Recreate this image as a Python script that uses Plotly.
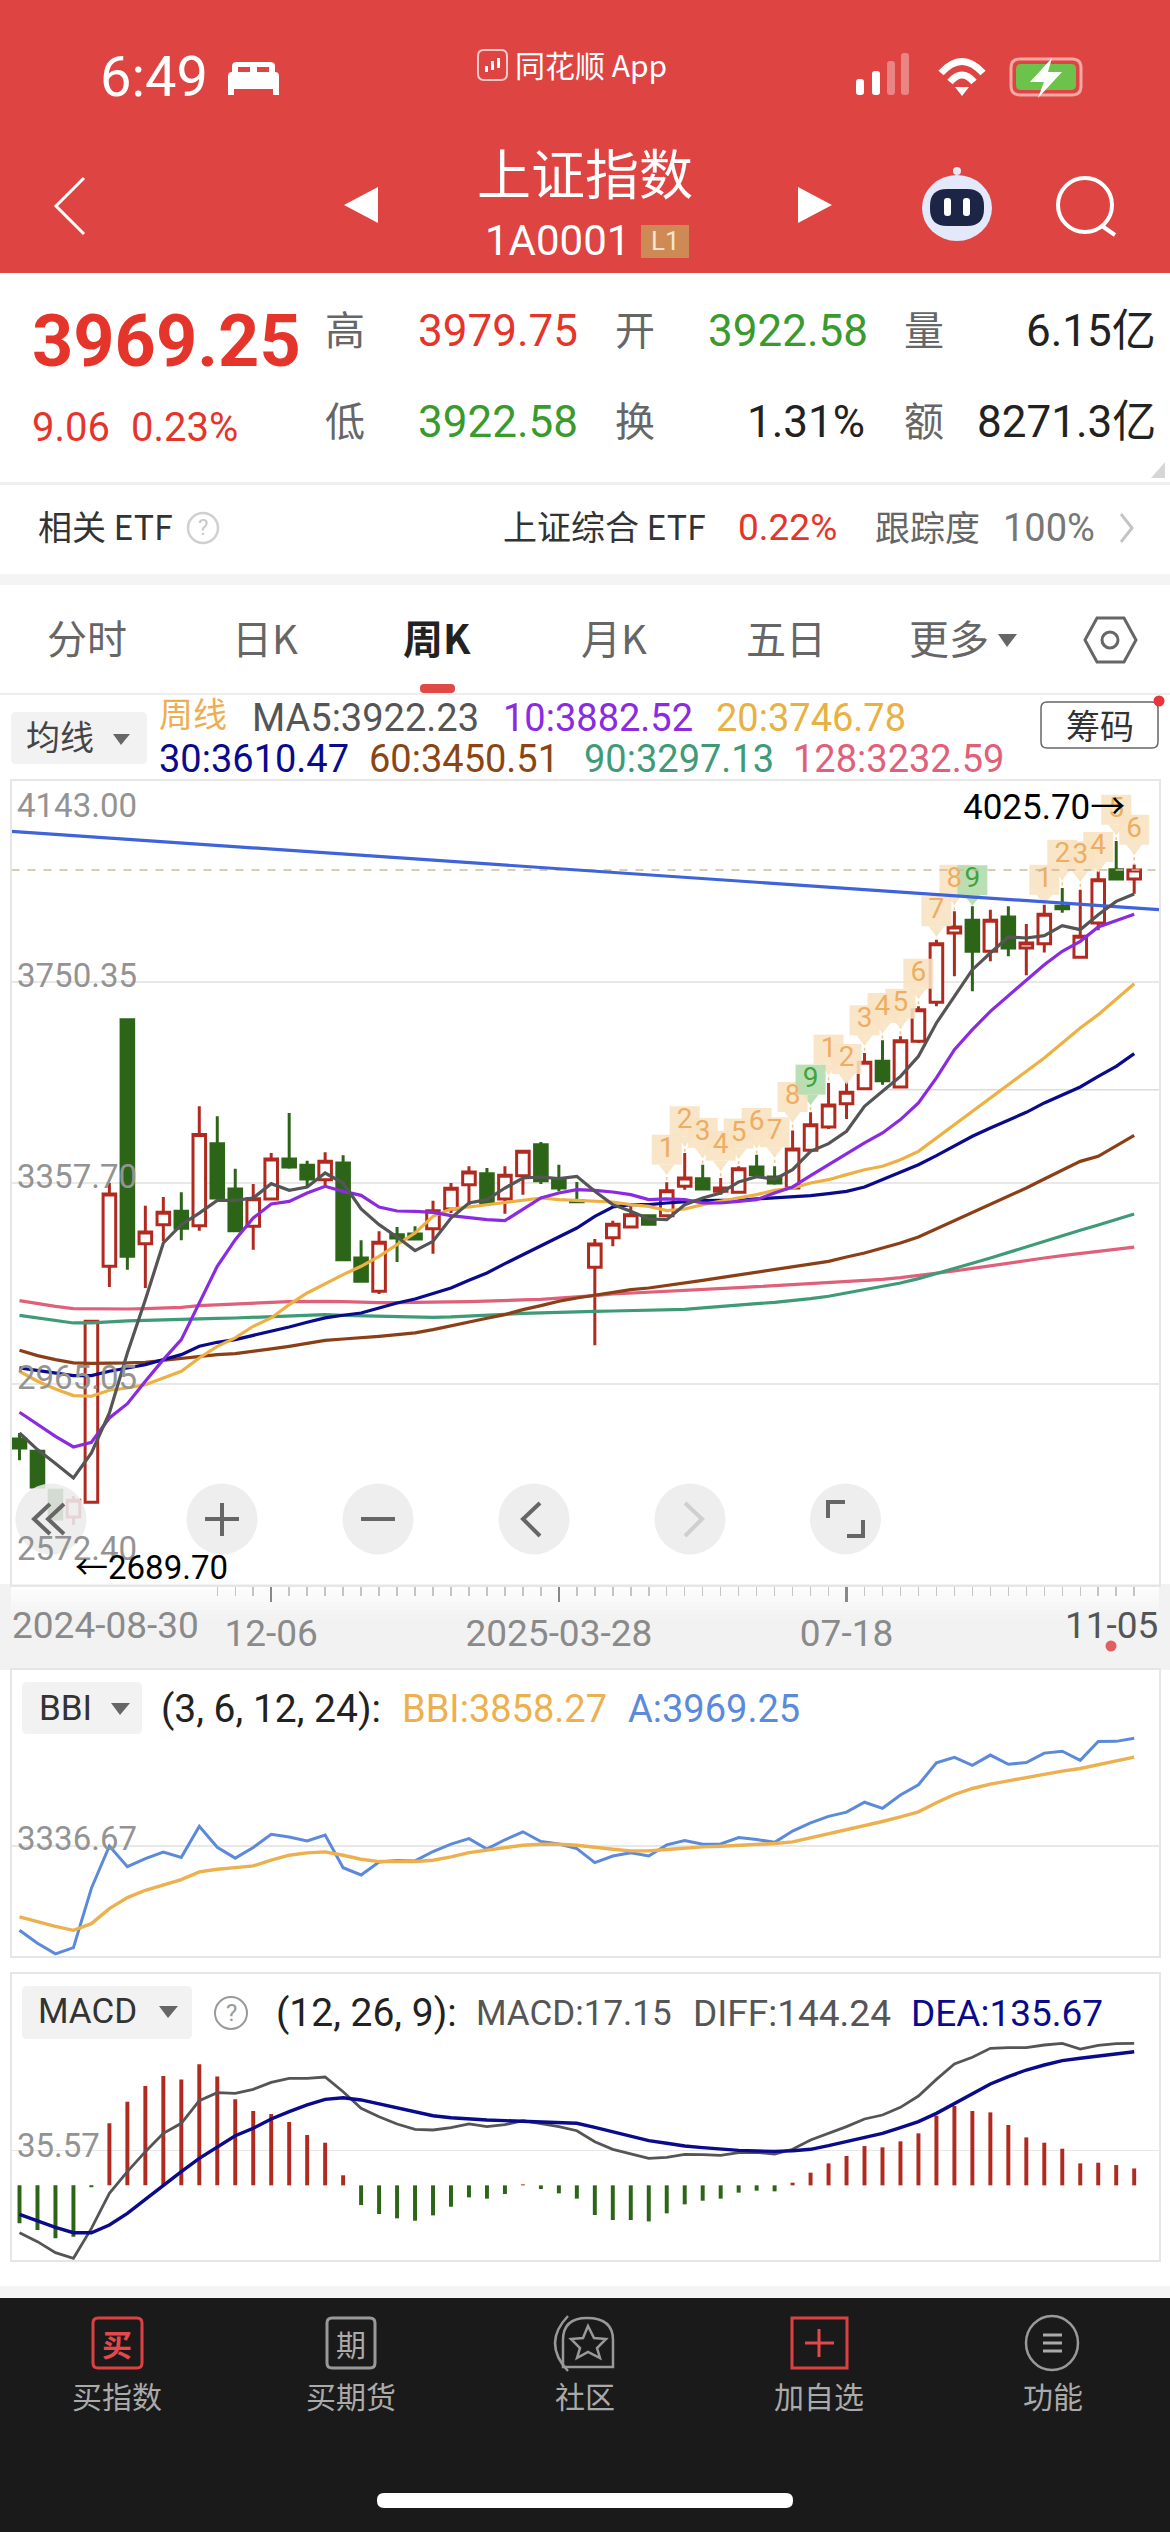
import plotly.graph_objects as go

W, H = 1170, 2532
FONT_N = "Roboto, 'Noto Sans CJK SC'"
FONT_C = "'Noto Sans CJK SC', Roboto"

# ---------- data ----------
opens = [2857.7,2833.6,2757.5,2705.4,2734.0,3194.9,3676.8,3239.2,3276.3,3302.4,3274.4,3434.6,3346.0,3273.1,3326.4,3404.6,3392.2,3364.2,3396.8,3211.2,3146.1,3256.8,3258.1,3268.5,3306.9,3354.4,3375.9,3326.4,3372.0,3432.6,3365.5,3323.0,3193.0,3250.9,3271.8,3293.9,3293.9,3351.2,3366.2,3341.4,3339.5,3388.9,3369.4,3347.9,3421.6,3467.2,3512.7,3542.0,3595.4,3545.3,3634.5,3710.6,3846.0,3870.8,3810.2,3877.3,3816.7,3825.2,3898.1,3798.5,3865.6,3969.7,3951.5]
highs = [2869.4,2836.0,2757.5,2745.8,3089.0,3357.7,3676.8,3313.4,3330.4,3339.5,3507.5,3488.0,3385.7,3355.7,3416.3,3494.4,3401.3,3417.6,3411.7,3245.7,3263.3,3271.8,3273.1,3323.2,3357.7,3390.3,3387.0,3390.3,3421.0,3437.8,3393.5,3359.7,3248.3,3284.1,3312.1,3295.9,3359.0,3416.3,3393.5,3367.5,3390.3,3413.0,3390.3,3460.5,3495.8,3553.1,3556.3,3611.7,3636.4,3644.2,3702.8,3833.0,3888.4,3898.1,3891.6,3898.1,3863.6,3901.4,3934.0,3930.7,3966.5,4025.7,3979.75]
lows = [2816.0,2764.0,2701.5,2689.7,2734.0,3154.6,3188.4,3152.6,3243.8,3245.7,3264.6,3328.4,3264.6,3227.5,3323.8,3385.7,3347.9,3352.5,3206.0,3165.6,3140.9,3203.4,3248.3,3219.7,3299.1,3314.1,3315.4,3297.8,3334.9,3355.7,3341.4,3318.6,3040.6,3234.0,3269.8,3277.0,3292.6,3344.7,3346.0,3334.9,3338.2,3367.5,3354.4,3345.0,3420.0,3463.2,3482.8,3540.0,3549.8,3545.3,3631.2,3702.8,3761.4,3732.1,3790.7,3800.5,3763.5,3808.2,3885.6,3797.2,3851.3,3951.5,3922.58]
closes = [2840.2,2764.0,2701.5,2737.9,3087.5,3336.2,3214.5,3262.0,3300.4,3269.2,3452.2,3328.4,3264.6,3327.1,3404.6,3389.0,3365.5,3400.0,3208.0,3165.6,3241.8,3250.3,3248.3,3303.7,3347.3,3379.2,3318.6,3372.7,3419.5,3362.3,3347.9,3321.0,3238.6,3277.0,3295.9,3277.0,3342.7,3367.5,3346.0,3347.9,3385.7,3374.0,3357.7,3424.0,3471.7,3510.1,3534.9,3593.4,3557.6,3635.8,3696.3,3825.2,3857.8,3810.2,3870.8,3816.7,3826.5,3882.5,3893.6,3839.5,3950.2,3951.5,3969.25]

ma5 = [2869.4,2836.9,2809.6,2781.6,2830.4,2908.5,3025.7,3129.8,3240.5,3276.3,3299.0,3323.8,3323.8,3328.4,3356.4,3343.4,3349.9,3377.2,3357.7,3306.9,3276.3,3252.2,3225.6,3243.8,3289.3,3318.6,3325.2,3347.9,3367.5,3369.4,3366.2,3370.7,3341.4,3315.4,3302.4,3287.4,3286.1,3315.4,3328.4,3338.2,3359.7,3370.0,3365.0,3383.7,3419.7,3434.6,3458.7,3507.5,3536.8,3566.0,3605.2,3670.3,3722.4,3774.4,3807.0,3838.3,3836.3,3840.9,3860.4,3852.6,3881.9,3907.9,3922.23]
ma10 = [2909.8,2885.7,2862.9,2842.1,2851.2,2898.7,2926.7,2970.4,3012.7,3051.7,3123.3,3195.0,3247.0,3289.3,3316.7,3321.9,3338.2,3351.2,3341.4,3333.6,3310.8,3303.0,3302.4,3300.4,3293.9,3289.3,3286.1,3284.1,3305.6,3328.4,3338.2,3344.7,3343.4,3340.1,3334.9,3325.2,3326.5,3325.2,3318.6,3318.6,3321.9,3325.2,3338.2,3350.0,3372.1,3393.6,3414.5,3436.0,3455.5,3481.5,3514.1,3562.9,3618.2,3657.3,3693.0,3723.7,3754.9,3784.2,3810.3,3829.8,3857.8,3870.8,3882.52]
ma20 = [2989.9,2970.4,2955.4,2942.4,2941.1,2952.8,2957.3,2963.8,2976.9,2989.9,3015.9,3038.7,3055.0,3077.8,3094.1,3120.1,3142.9,3161.1,3178.7,3195.0,3214.5,3237.3,3260.0,3292.6,3306.9,3310.8,3315.4,3319.9,3325.2,3328.4,3325.2,3323.8,3321.9,3320.6,3315.4,3312.1,3303.7,3306.9,3315.4,3321.9,3328.4,3334.9,3343.4,3347.9,3357.7,3364.2,3374.0,3383.7,3390.3,3403.3,3419.5,3445.7,3471.7,3497.8,3523.8,3549.9,3575.9,3602.0,3631.2,3660.5,3686.6,3715.9,3746.78]
ma30 = [2996.4,2991.8,2986.6,2981.4,2981.4,2989.9,2996.4,3002.9,3012.7,3022.4,3038.7,3046.5,3051.7,3059.5,3068.0,3076.5,3085.6,3094.1,3099.3,3103.8,3113.6,3123.3,3131.2,3141.6,3152.6,3167.6,3181.9,3200.2,3217.7,3234.0,3252.2,3269.8,3292.6,3310.8,3315.4,3315.4,3318.6,3321.2,3323.2,3323.8,3323.8,3326.5,3328.4,3330.4,3333.0,3336.9,3341.4,3349.9,3364.2,3378.5,3393.5,3411.1,3429.4,3449.0,3465.2,3480.2,3495.8,3514.1,3530.3,3545.3,3566.1,3585.7,3610.47]
ma60 = [3030.9,3020.5,3012.7,3006.2,3005.5,3005.5,3006.2,3007.5,3011.4,3015.9,3019.2,3022.4,3024.4,3028.3,3033.5,3038.7,3045.2,3050.4,3053.0,3055.0,3058.2,3061.5,3064.8,3071.3,3079.1,3086.2,3093.4,3100.6,3110.3,3118.1,3126.6,3133.1,3138.3,3144.2,3149.4,3152.6,3157.2,3162.4,3167.6,3172.8,3178.0,3183.2,3188.4,3193.6,3198.9,3204.7,3213.2,3221.0,3230.8,3240.5,3252.2,3267.9,3284.1,3299.1,3315.4,3331.7,3347.9,3365.5,3382.4,3400.0,3409.8,3429.3,3450.51]
ma90 = [3099.2,3094.0,3088.8,3084.3,3084.3,3086.9,3088.2,3089.5,3090.8,3091.4,3092.7,3093.4,3094.0,3095.3,3096.0,3097.3,3099.2,3100.6,3099.2,3098.6,3097.3,3096.0,3095.3,3095.3,3096.0,3097.3,3099.2,3101.2,3103.2,3104.5,3105.8,3106.4,3107.1,3107.7,3108.4,3108.4,3109.0,3111.0,3113.6,3116.8,3119.4,3122.0,3124.6,3127.9,3131.8,3136.4,3142.9,3149.4,3155.9,3162.4,3170.9,3180.6,3189.7,3200.8,3211.2,3222.3,3232.7,3243.8,3254.2,3265.3,3275.7,3286.7,3297.13]
ma128 = [3127.9,3122.0,3116.8,3112.3,3111.6,3111.6,3111.6,3112.3,3113.6,3114.9,3118.1,3120.1,3121.4,3122.7,3124.6,3125.9,3126.6,3126.6,3125.9,3124.6,3124.0,3124.0,3124.0,3124.6,3125.3,3125.9,3126.6,3127.9,3129.2,3130.5,3132.5,3135.1,3137.7,3140.9,3142.9,3144.8,3146.8,3148.7,3150.0,3152.0,3153.3,3155.2,3157.2,3159.1,3161.1,3163.0,3165.0,3167.0,3169.6,3172.8,3176.7,3180.6,3185.8,3191.0,3196.3,3201.5,3206.7,3211.2,3215.8,3220.3,3224.2,3228.2,3232.59]

bbi = [2918.6,2889.1,2863.6,2840.0,2879.3,2967.7,3032.4,3075.6,3105.1,3138.4,3183.6,3199.3,3209.1,3218.9,3252.3,3281.7,3295.5,3301.4,3281.7,3258.2,3244.4,3242.5,3244.4,3252.3,3271.9,3297.5,3311.2,3326.9,3340.6,3346.5,3346.5,3340.6,3326.9,3317.0,3307.3,3307.3,3315.1,3325.0,3330.8,3334.7,3338.7,3344.5,3350.4,3360.3,3383.8,3409.3,3434.9,3458.4,3480.0,3507.5,3536.9,3589.9,3639.0,3674.3,3699.8,3719.5,3739.1,3758.7,3776.4,3792.1,3815.7,3837.3,3858.27]

macd = [-38.6,-45.4,-53.8,-52.1,-2.0,63.0,85.0,100.9,111.0,107.6,122.9,110.4,87.3,75.5,72.4,64.3,51.1,43.3,10.2,-20.0,-29.1,-33.5,-35.9,-30.5,-21.7,-12.2,-13.5,-8.8,1.0,-3.7,-8.1,-13.5,-30.1,-35.2,-35.2,-36.6,-28.4,-19.3,-15.6,-13.5,-7.4,-5.4,-6.1,2.7,12.9,22.3,29.8,39.9,38.6,44.7,52.8,70.7,80.6,75.5,74.1,61.3,48.7,43.3,37.2,22.3,23.0,20.6,17.15]
diff = [-48.1,-57.2,-68.4,-74.1,-43.7,-8.1,13.9,34.2,52.8,63.0,86.0,94.1,93.4,97.5,104.6,108.7,108.7,110.0,95.1,78.2,69.7,62.3,56.9,56.2,58.6,62.3,59.6,61.6,65.7,63.0,59.6,55.5,44.3,36.6,31.8,27.4,28.4,31.5,31.1,30.5,33.2,33.5,31.8,36.6,46.0,52.8,59.6,67.4,71.4,79.2,90.7,107.6,123.2,130.0,139.1,139.8,139.8,142.5,144.2,138.4,142.2,143.9,144.24]
dea = [-29.4,-35.9,-42.7,-48.1,-48.1,-40.3,-28.4,-14.2,0.3,13.9,27.4,39.3,50.4,57.9,67.4,74.8,81.6,87.3,89.0,86.7,82.6,78.2,74.1,70.7,68.7,67.4,66.3,65.7,65.0,64.7,64.3,63.0,58.9,54.5,49.8,45.4,42.7,39.9,38.3,36.6,35.5,34.9,34.5,35.2,36.6,40.3,44.3,48.7,52.8,58.6,64.7,73.1,83.3,93.4,102.9,110.4,117.1,122.2,126.6,129.0,131.3,133.7,135.67]

tag_idx = [36,37,38,39,40,41,42,43,44,45,46,47,48,49,50,51,52,53,57,58,59,60,61,62]
tag_num = [1,2,3,4,5,6,7,8,9,1,2,3,4,5,6,7,8,9,1,2,3,4,5,6]
tag_val = [3422.9,3478.3,3455.5,3430.7,3454.2,3475.0,3456.8,3525.8,3559.6,3618.2,3600.0,3675.5,3699.6,3708.0,3766.6,3888.4,3950.2,3948.9,3950.2,3999.0,3995.8,4014.0,4086.9,4047.9]

ytick_main = [4143.00, 3750.35, 3357.70, 2965.05, 2572.40]
ytick_labels = ["4143.00", "3750.35", "3357.70", "2965.05", "2572.40"]
xtick_pos = [14, 30, 46, 62]
xtick_text = ["12-06", "2025-03-28", "07-18", ""]
trend_x = [-0.445, 63.38]
trend_y = [4044.6, 3891.6]
last_price = 3969.25
bbi_tick = 3336.67
macd_tick = 35.57
guide_price = 3540.0

for a in (opens, highs, lows, closes, ma5, ma10, ma20, ma30, ma60, ma90, ma128, bbi, macd, diff, dea):
    assert len(a) == 63, len(a)
assert len(tag_idx) == len(tag_num) == len(tag_val)

xs = list(range(63))
RED, GRN = "#B12A20", "#2D6518"
XR = [-0.445, 63.38]

# ---------- chrome helpers ----------
def fx(x): return x / W
def fy(y): return 1 - y / H

shapes, ann = [], []

def rect(x0, y0, x1, y1, fill=None, line=None, lw=0, layer="above", op=1):
    shapes.append(dict(type="rect", xref="paper", yref="paper", x0=fx(x0), x1=fx(x1), y0=fy(y1), y1=fy(y0),
                       fillcolor=fill or "rgba(0,0,0,0)", line=dict(color=line or "rgba(0,0,0,0)", width=lw), layer=layer, opacity=op))

def circ(cx, cy, rx, ry=None, fill=None, line=None, lw=0, layer="above"):
    ry = ry or rx
    shapes.append(dict(type="circle", xref="paper", yref="paper", x0=fx(cx-rx), x1=fx(cx+rx), y0=fy(cy+ry), y1=fy(cy-ry),
                       fillcolor=fill or "rgba(0,0,0,0)", line=dict(color=line or "rgba(0,0,0,0)", width=lw), layer=layer))

def path(cmds, fill=None, line=None, lw=0, layer="above"):
    out, k = [], 0
    for tok in cmds.split():
        if tok.isalpha():
            out.append(tok); k = 0
        else:
            v = float(tok)
            out.append(f"{fx(v):.6f}" if k % 2 == 0 else f"{fy(v):.6f}")
            k += 1
    shapes.append(dict(type="path", xref="paper", yref="paper", path=" ".join(out),
                       fillcolor=fill or "rgba(0,0,0,0)", line=dict(color=line or "rgba(0,0,0,0)", width=lw), layer=layer))

def rrect(x0, y0, x1, y1, r, **k):
    path(f"M {x0+r} {y0} L {x1-r} {y0} Q {x1} {y0} {x1} {y0+r} L {x1} {y1-r} Q {x1} {y1} {x1-r} {y1} "
         f"L {x0+r} {y1} Q {x0} {y1} {x0} {y1-r} L {x0} {y0+r} Q {x0} {y0} {x0+r} {y0} Z", **k)

def T(x, y, s, size, color, anchor="left", font=FONT_N, bold=False):
    if font == FONT_C:
        y -= 3
    ann.append(dict(xref="paper", yref="paper", x=fx(x), y=fy(y), text=f"<b>{s}</b>" if bold else s, showarrow=False,
                    xanchor=anchor, yanchor="middle", borderpad=0, font=dict(family=font, size=size, color=color)))

# header
HDR = "#DD4442"
rect(0, 0, W, 273, fill=HDR)
T(99, 77, "6:49", 56, "#fff")
path("M 228 95 L 228 76 Q 228 72 232 72 L 232 66 Q 232 62 237 62 L 270 62 Q 275 62 275 66 L 275 72 Q 279 72 279 76 L 279 95 L 273 95 L 273 89 L 234 89 L 234 95 Z", fill="#fff")
rect(238, 67, 250, 72, fill=HDR); rect(257, 67, 269, 72, fill=HDR)
rrect(478, 50, 507, 80, 6, line="#F5C9C6", lw=2)
rect(485, 66, 488, 72, fill="#fff"); rect(491, 61, 494, 70, fill="#fff"); rect(497, 58, 500, 68, fill="#fff")
T(514, 67, "同花顺 App", 30, "#fff", font=FONT_C)
for i, (x, h, c) in enumerate([(857, 16, "#fff"), (873, 24, "#fff"), (888, 34, "rgba(255,255,255,.35)"), (902, 42, "rgba(255,255,255,.35)")]):
    rrect(x - 1, 95 - h, x + 7, 95, 3, fill=c)
path("M 941 73 Q 962 50 983 73", line="#fff", lw=7)
path("M 950 82 Q 962 68 974 82", line="#fff", lw=7)
path("M 955 87 L 962 96 L 969 87 Z", fill="#fff")
rrect(1011, 59, 1081, 95, 9, line="#F3A8A5", lw=3)
rrect(1016, 64, 1076, 90, 5, fill="#6CC24A")
path("M 1052 58 L 1030 82 L 1044 82 L 1038 98 L 1062 72 L 1048 72 Z", fill="#fff")
path("M 84 178 L 56 206 L 84 234", line="#fff", lw=3)
path("M 378 187 L 344 205 L 378 223 Z", fill="#fff")
path("M 798 187 L 832 205 L 798 223 Z", fill="#fff")
T(585, 175, "上证指数", 54, "#fff", anchor="center", font=FONT_C)
T(484, 241, "1A0001", 42, "#fff")
rect(641, 225, 689, 258, fill="#CE8A55")
T(665, 241, "L1", 26, "#F7E3D0", anchor="center")
circ(957, 208, 35, 33, fill="#E3E8FA")
circ(957, 171, 4, fill="#E3E8FA")
rrect(930, 189, 984, 226, 17, fill="#1D2547")
rrect(944, 198, 951, 216, 3, fill="#fff"); rrect(963, 198, 970, 216, 3, fill="#fff")
circ(1085, 205, 27, line="#fff", lw=4)
path("M 1102 226 L 1115 235", line="#fff", lw=4)

# quote block
rect(0, 273, W, 483, fill="#fff")
T(31, 341, "3969.25", 72, "#E5352B", bold=True)
T(31, 428, "9.06", 40, "#E5352B")
T(130, 428, "0.23%", 40, "#E5352B")
QG = "#3A9A2E"
for x, s in [(345, "高"), (635, "开"), (924, "量")]:
    T(x, 331, s, 40, "#666", anchor="center", font=FONT_C)
for x, s in [(345, "低"), (635, "换"), (924, "额")]:
    T(x, 422, s, 40, "#666", anchor="center", font=FONT_C)
T(417, 331, "3979.75", 44, "#E5352B")
T(707, 331, "3922.58", 44, QG)
T(417, 422, "3922.58", 44, QG)
T(1157, 331, "6.15亿", 44, "#222", anchor="right")
T(866, 422, "1.31%", 44, "#222", anchor="right")
T(1157, 422, "8271.3亿", 44, "#222", anchor="right")
path("M 1151 478 L 1165 462 L 1165 478 Z", fill="#D6D6D6")
rect(0, 482, W, 485, fill="#EFEFEF")
T(37, 528, "相关 ETF", 34, "#333", font=FONT_C)
circ(203, 528, 15, line="#D0D0D0", lw=2.5)
T(203, 528, "?", 22, "#C8C8C8", anchor="center")
T(502, 528, "上证综合 ETF", 34, "#333", font=FONT_C)
T(737, 528, "0.22%", 37, "#E5352B")
T(874, 528, "跟踪度", 35, "#666", font=FONT_C)
T(1002, 528, "100%", 38, "#777")
path("M 1121 514 L 1132 528 L 1121 542", line="#C4C4C4", lw=3)
rect(0, 574, W, 585, fill="#F4F4F4")
for x, s, b in [(87, "分时", 0), (265, "日K", 0), (437, "周K", 1), (614, "月K", 0), (786, "五日", 0), (949, "更多", 0)]:
    T(x, 640, s, 40, "#222" if b else "#666", anchor="center", font=FONT_C, bold=bool(b))
path("M 998 634 L 1017 634 L 1007 647 Z", fill="#666")
path("M 1097 618 L 1124 618 L 1136 640 L 1124 662 L 1097 662 L 1085 640 Z", line="#666", lw=3)
circ(1110, 640, 8, line="#666", lw=3)
rrect(420, 684, 455, 693, 4, fill="#E04A45")
rect(0, 693, W, 695, fill="#EDEDED")

# legend row of main chart
rrect(11, 712, 147, 764, 5, fill="#F2F2F2")
T(60, 738, "均线", 34, "#444", anchor="center", font=FONT_C)
path("M 113 734 L 130 734 L 121 745 Z", fill="#666")
T(158, 716, "周线", 34, "#EDAE4F", font=FONT_C)
for x, y, s, c in [(251, 718, "MA5:3922.23", "#555555"), (502, 718, "10:3882.52", "#8A2BE2"), (715, 718, "20:3746.78", "#E8B143"),
                   (158, 759, "30:3610.47", "#0A0A8C"), (368, 759, "60:3450.51", "#8B4513"), (583, 759, "90:3297.13", "#3F9B77"),
                   (792, 759, "128:3232.59", "#E0607A")]:
    T(x, y, s, 38, c)
rrect(1041, 702, 1158, 748, 6, fill="#fff", line="#666", lw=1.5)
T(1100, 727, "筹码", 34, "#333", anchor="center", font=FONT_C)
circ(1159, 701, 5.5, fill="#E8343A")

# ruler strip
rect(0, 1584, W, 1670, fill="#F2F2F2", layer="below")
for k in range(8):
    rect(11, 1586 + k * 4, 1159, 1590 + k * 4, fill="#fff", op=0.8 - k * 0.1, layer="below")
T(11, 1625, "2024-08-30", 37, "#8A8A8A")
T(1111, 1625, "11-05", 37, "#555", anchor="center")
circ(1111, 1646, 5.5, fill="#E06060")

# y labels (main)
for lab, yy in zip(ytick_labels, [805, 975, 1176, 1377, 1548]):
    T(16, yy, lab, 33, "#939393")
T(962, 807, "4025.70→", 35, "#000")
T(74, 1567, "←2689.70", 33, "#000")

# floating buttons
BTN = "rgba(236,236,236,.88)"
for cx in [51, 222, 378, 534, 690, 845.5]:
    circ(cx, 1519, 35.5, fill=BTN)
G = "#666"
path("M 50 1504 L 34 1519 L 50 1534", line=G, lw=4)
path("M 64 1504 L 48 1519 L 64 1534", line=G, lw=4)
path("M 205 1519 L 239 1519", line=G, lw=4); path("M 222 1503 L 222 1536", line=G, lw=4)
path("M 361 1519 L 395 1519", line=G, lw=4)
path("M 540 1503 L 523 1519 L 540 1536", line=G, lw=4)
path("M 685 1503 L 702 1519 L 685 1536", line="#CFCFCF", lw=4)
path("M 828 1518 L 828 1502 L 845 1502", line=G, lw=4)
path("M 863 1520 L 863 1536 L 847 1536", line=G, lw=4)

# BBI panel chrome
rrect(22, 1682, 142, 1734, 5, fill="#F2F2F2")
T(38, 1708, "BBI", 35, "#333")
path("M 111 1703 L 130 1703 L 120 1715 Z", fill="#666")
T(160, 1709, "(3, 6, 12, 24):", 39, "#222")
T(401, 1709, "BBI:3858.27", 38, "#EDB04E")
T(627, 1709, "A:3969.25", 38, "#5B8ADB")
T(16, 1838, "3336.67", 33, "#939393")

# MACD panel chrome
rrect(22, 1986, 192, 2039, 5, fill="#F2F2F2")
T(37, 2012, "MACD", 35, "#333")
path("M 159 2006 L 178 2006 L 168 2018 Z", fill="#666")
circ(231, 2013, 16, line="#999", lw=2)
T(231, 2013, "?", 24, "#999", anchor="center")
T(275, 2013, "(12, 26, 9):", 39, "#222")
T(475, 2013, "MACD:17.15", 35, "#555")
T(692, 2013, "DIFF:144.24", 37, "#555")
T(910, 2013, "DEA:135.67", 37, "#0A0A8C")
T(16, 2145, "35.57", 33, "#939393")

# bottom bar
rect(0, 2286, W, 2298, fill="#F4F4F4")
rect(0, 2298, W, H, fill="#1A1A1A")
rrect(93, 2318, 142, 2368, 5, line="#DD4040", lw=3)
T(117, 2346, "买", 30, "#E5484A", anchor="center", font=FONT_C, bold=True)
rrect(327, 2318, 375, 2368, 5, line="#999", lw=3)
T(351, 2346, "期", 30, "#AAA", anchor="center", font=FONT_C)
path("M 568 2316 Q 542 2343 568 2371", line="#999", lw=2.5)
path("M 563 2367 L 563 2340 Q 563 2318 587 2318 Q 613 2318 613 2340 L 613 2367 Z", line="#999", lw=2.5)
path("M 588 2326 L 594 2338 L 606 2339 L 597 2348 L 600 2358 L 588 2352 L 577 2358 L 580 2348 L 571 2339 L 583 2338 Z", line="#999", lw=2.5)
rect(792, 2318, 847, 2368, line="#DD4040", lw=3)
path("M 805 2343 L 834 2343", line="#E5484A", lw=3); path("M 819 2329 L 819 2357", line="#E5484A", lw=3)
circ(1052, 2343, 26, 27, line="#999", lw=2.5)
for yy in (2335, 2343, 2351):
    path(f"M 1043 {yy} L 1062 {yy}", line="#AAA", lw=3)
for x, s in [(117, "买指数"), (351, "买期货"), (585, "社区"), (819, "加自选"), (1053, "功能")]:
    T(x, 2398, s, 30, "#AAA", anchor="center", font=FONT_C)
rrect(377, 2493, 793, 2508, 7, fill="#fff")

# ---------- traces ----------
fig = go.Figure()

# magic-nine tags: connectors, tails, bodies
cx, cy = [], []
for i, v in zip(tag_idx, tag_val):
    cx += [i, i, None]; cy += [v - 42, highs[i], None]
fig.add_trace(go.Scatter(x=cx, y=cy, mode="lines", line=dict(color="#F0C48A", width=1.5, dash="3px,3px"), xaxis="x", yaxis="y"))
tag_bg = ["rgba(182,221,176,.95)" if n == 9 else "rgba(248,226,194,.88)" for n in tag_num]
tag_fg = ["#3FA33F" if n == 9 else "#EDAE63" for n in tag_num]
fig.add_trace(go.Scatter(x=tag_idx, y=[v - 36 for v in tag_val], mode="markers",
                         marker=dict(symbol="triangle-down", size=14, color=tag_bg, line=dict(width=0)), xaxis="x", yaxis="y"))
fig.add_trace(go.Scatter(x=tag_idx, y=tag_val, mode="markers+text", text=[str(n) for n in tag_num], textposition="middle center",
                         textfont=dict(family=FONT_N, size=28, color=tag_fg),
                         marker=dict(symbol="square", size=30, color=tag_bg, line=dict(width=0)), xaxis="x", yaxis="y"))

fig.add_trace(go.Candlestick(x=xs, open=opens, high=highs, low=lows, close=closes, xaxis="x", yaxis="y", whiskerwidth=0,
                             increasing=dict(line=dict(color=RED, width=3), fillcolor="#FFFFFF"),
                             decreasing=dict(line=dict(color=GRN, width=3), fillcolor=GRN)))

fig.add_trace(go.Scatter(x=[XR[0], 63.2], y=[last_price, last_price], mode="lines", line=dict(color="#CDBB9F", width=1.5, dash="8px,8px"), xaxis="x", yaxis="y"))
fig.add_trace(go.Scatter(x=[48, XR[1]], y=[guide_price, guide_price], mode="lines", line=dict(color="#DCDCDC", width=1.5), xaxis="x", yaxis="y"))
fig.add_trace(go.Scatter(x=trend_x, y=trend_y, mode="lines", line=dict(color="#3F63D8", width=3.2), xaxis="x", yaxis="y"))

for vals, col in [(ma128, "#E0607A"), (ma90, "#3F9B77"), (ma60, "#8B3F16"), (ma30, "#0A0A8C"), (ma20, "#EDB143"), (ma10, "#8A2BE2"), (ma5, "#555555")]:
    fig.add_trace(go.Scatter(x=xs, y=vals, mode="lines", line=dict(color=col, width=3.2), xaxis="x", yaxis="y"))

# BBI panel
fig.add_trace(go.Scatter(x=xs, y=closes, mode="lines", line=dict(color="#5B8ADB", width=3), xaxis="x2", yaxis="y2"))
fig.add_trace(go.Scatter(x=xs, y=bbi, mode="lines", line=dict(color="#EDB04E", width=3.4), xaxis="x2", yaxis="y2"))

# MACD panel
fig.add_trace(go.Bar(x=xs, y=macd, width=0.22, marker=dict(color=["#B12A20" if v > 0 else "#2D6518" for v in macd], line=dict(width=0)),
                     xaxis="x3", yaxis="y3"))
fig.add_trace(go.Scatter(x=xs, y=diff, mode="lines", line=dict(color="#555555", width=2.8), xaxis="x3", yaxis="y3"))
fig.add_trace(go.Scatter(x=xs, y=dea, mode="lines", line=dict(color="#0A0A8C", width=3.4), xaxis="x3", yaxis="y3"))

BOX = "#E6E6E6"
def xax(anchor, dom=None, **k):
    d = dict(domain=[fx(11.5), fx(1159)], range=XR, anchor=anchor, showgrid=False, zeroline=False, showline=True, mirror=True,
             linecolor=BOX, linewidth=2, fixedrange=True, showticklabels=False, ticks="")
    d.update(k); return d
def yax(anchor, top, bot, rng, tv):
    return dict(domain=[fy(bot), fy(top)], range=rng, anchor=anchor, tickmode="array", tickvals=tv, showticklabels=False, ticks="",
                gridcolor="#E8E8E8", gridwidth=1.5, zeroline=False, showline=True, mirror=True, linecolor=BOX, linewidth=2, fixedrange=True)

fig.update_layout(
    width=W, height=H, margin=dict(l=0, r=0, t=0, b=0), paper_bgcolor="#fff", plot_bgcolor="#fff",
    showlegend=False, hovermode=False, barmode="overlay", boxgap=0.3, boxgroupgap=0, shapes=shapes, annotations=ann,
    font=dict(family=FONT_N),
    xaxis=xax("y", tickmode="array", tickvals=xtick_pos, ticktext=xtick_text, ticks="outside", ticklen=15, tickwidth=2.5, tickcolor="#888",
              showticklabels=True, tickfont=dict(family=FONT_N, size=37, color="#8A8A8A"), ticklabelstandoff=0,
              minor=dict(tickmode="array", tickvals=list(range(11, 63)), ticks="outside", ticklen=9, tickwidth=1.5, tickcolor="#C4C4C4"),
              rangeslider=dict(visible=False)),
    yaxis=yax("x", 781, 1585, [2572.40, 4143.00], ytick_main),
    xaxis2=xax("y2"),
    yaxis2=yax("x2", 1670, 1956, [2689.0, 4371.2], [bbi_tick]),
    xaxis3=xax("y3"),
    yaxis3=yax("x3", 1974, 2260, [-75.8, 214.6], [macd_tick]),
)

fig.write_html("out.html", config=dict(displayModeBar=False, staticPlot=True),
               post_script="document.body.style.margin='0';document.documentElement.style.overflow='hidden';")
